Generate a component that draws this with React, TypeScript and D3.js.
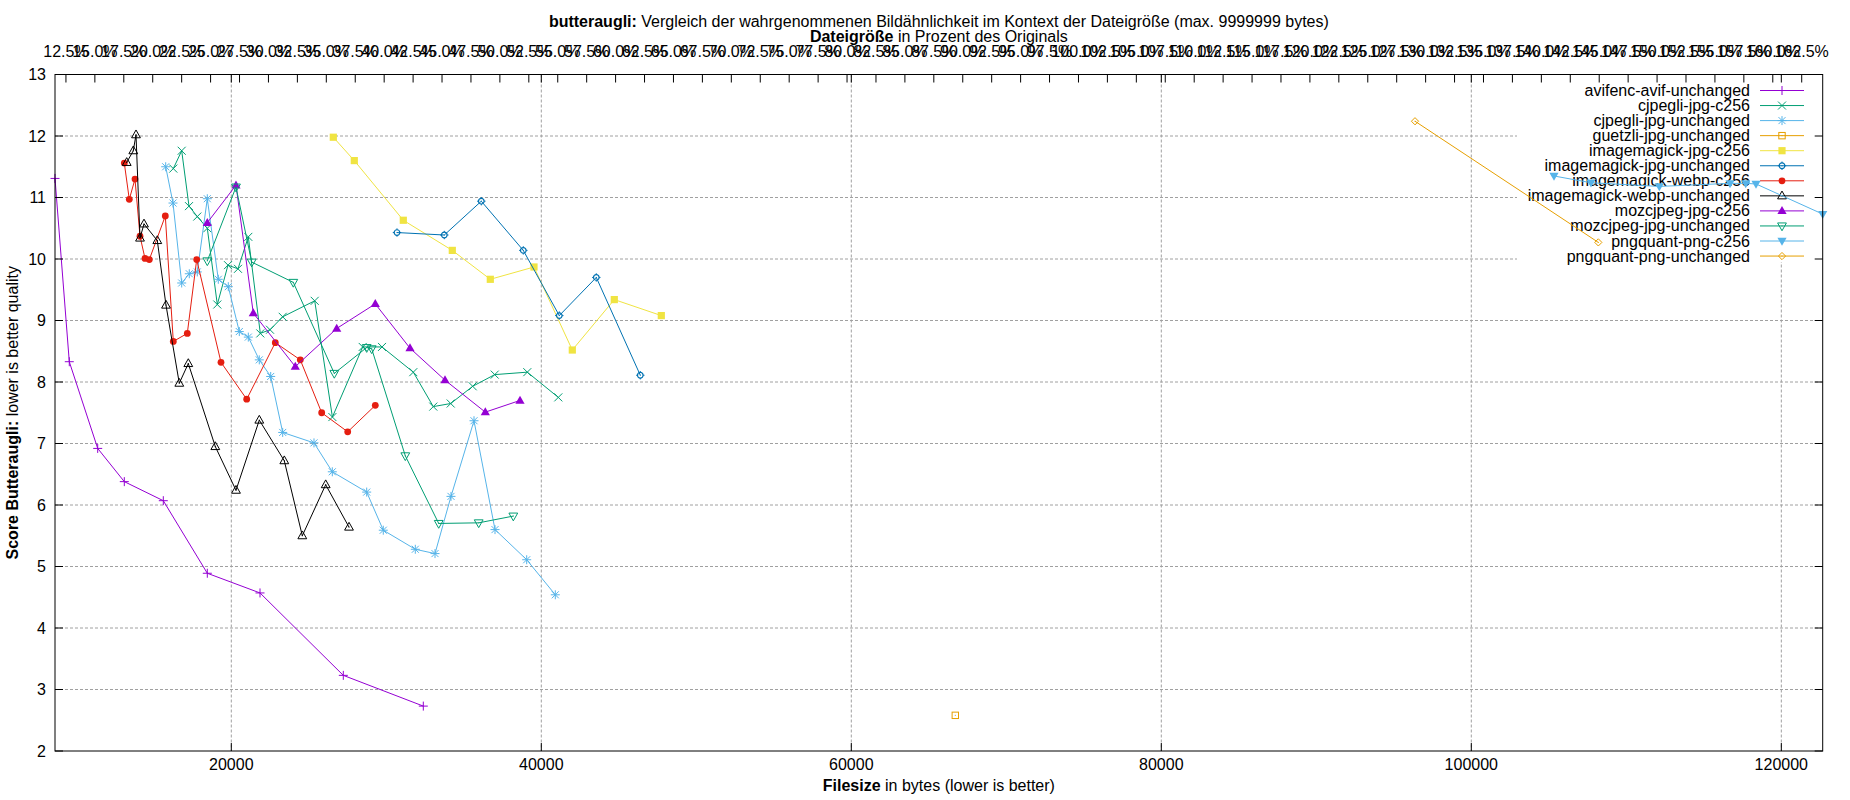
import React, { useEffect, useRef } from 'react';
import * as d3 from 'd3';

type Pt = [number, number]; // [filesize in bytes, butteraugli score]

const avifencAvifUnchanged: Pt[] = [
  [8626, 11.31], [9548, 8.33], [11381, 6.92], [13097, 6.38], [15613, 6.07],
  [18452, 4.89], [21852, 4.57], [27226, 3.23], [32387, 2.73],
];
const cjpegliJpgC256: Pt[] = [
  [16258, 11.47], [16800, 11.76], [17271, 10.86], [17806, 10.69], [18452, 10.5],
  [19097, 9.26], [19787, 9.9], [20432, 9.84], [21097, 10.36], [21871, 8.79],
  [22497, 8.85], [23316, 9.06], [25381, 9.32], [26523, 7.43], [28477, 8.57],
  [29723, 8.57], [31742, 8.16], [33032, 7.6], [34155, 7.65], [35574, 7.93],
  [36994, 8.12], [39097, 8.16], [41097, 7.75],
];
const cjpegliJpgUnchanged: Pt[] = [
  [15768, 11.5], [16239, 10.91], [16800, 9.61], [17290, 9.76], [17806, 9.79],
  [18452, 10.98], [19161, 9.67], [19806, 9.55], [20516, 8.82], [21097, 8.73],
  [21806, 8.36], [22542, 8.09], [23316, 7.18], [25335, 7.01], [26516, 6.54],
  [28735, 6.21], [29806, 5.59], [31871, 5.28], [33142, 5.21], [34174, 6.14],
  [35658, 7.37], [37013, 5.6], [39058, 5.11], [40903, 4.54],
];
const guetzliJpgUnchanged: Pt[] = [[66710, 2.58]];
const imagemagickJpgC256: Pt[] = [
  [26581, 11.98], [27935, 11.6], [31097, 10.63], [34258, 10.14], [36710, 9.67],
  [39529, 9.87], [42000, 8.52], [44710, 9.34], [47742, 9.08],
];
const imagemagickJpgUnchanged: Pt[] = [
  [30690, 10.43], [33742, 10.39], [36129, 10.94], [38839, 10.14], [41161, 9.08],
  [43548, 9.7], [46387, 8.11],
];
const imagemagickWebpC256: Pt[] = [
  [13097, 11.56], [13419, 10.97], [13787, 11.3], [14110, 10.37], [14432, 10.01],
  [14710, 9.99], [15742, 10.7], [16258, 8.66], [17161, 8.79], [17768, 9.99],
  [19335, 8.32], [20994, 7.72], [22839, 8.64], [24452, 8.36], [25832, 7.5],
  [27510, 7.19], [29290, 7.62],
];
const imagemagickWebpUnchanged: Pt[] = [
  [13252, 11.57], [13677, 11.76], [13852, 12.02], [14110, 10.34], [14368, 10.57],
  [15226, 10.3], [15787, 9.25], [16645, 7.98], [17226, 8.3], [18968, 6.95],
  [20303, 6.24], [21806, 7.38], [23419, 6.72], [24581, 5.5], [26090, 6.33],
  [27594, 5.64],
];
const mozcjpegJpgC256: Pt[] = [
  [18452, 10.59], [20303, 11.2], [21419, 9.12], [24129, 8.25], [26800, 8.87],
  [29290, 9.27], [31529, 8.55], [33787, 8.03], [36387, 7.51], [38626, 7.7],
];
const mozcjpegJpgUnchanged: Pt[] = [
  [18452, 9.97], [20303, 11.17], [21316, 9.95], [24000, 9.62], [26645, 8.14],
  [28735, 8.56], [29058, 8.54], [31226, 6.8], [33381, 5.7], [35961, 5.71],
  [38194, 5.82],
];
const pngquantPngC256: Pt[] = [
  [105335, 11.35], [107722, 11.24], [112129, 11.18], [116690, 11.23],
  [117703, 11.23], [118368, 11.22], [122670, 10.73],
];
const pngquantPngUnchanged: Pt[] = [[96367, 12.24], [108194, 10.27]];

const seriesNames = [
  'avifenc-avif-unchanged', 'cjpegli-jpg-c256', 'cjpegli-jpg-unchanged',
  'guetzli-jpg-unchanged', 'imagemagick-jpg-c256', 'imagemagick-jpg-unchanged',
  'imagemagick-webp-c256', 'imagemagick-webp-unchanged', 'mozcjpeg-jpg-c256',
  'mozcjpeg-jpg-unchanged', 'pngquant-png-c256', 'pngquant-png-unchanged',
];
const seriesData = [
  avifencAvifUnchanged, cjpegliJpgC256, cjpegliJpgUnchanged, guetzliJpgUnchanged,
  imagemagickJpgC256, imagemagickJpgUnchanged, imagemagickWebpC256,
  imagemagickWebpUnchanged, mozcjpegJpgC256, mozcjpegJpgUnchanged,
  pngquantPngC256, pngquantPngUnchanged,
];

const yTicks = d3.range(2, 14);
const xTicks = [20000, 40000, 60000, 80000, 100000, 120000];
const pctTicks = d3.range(12.5, 162.6, 2.5);
const originalSize = 74656; // bytes, for the percent axis on top

// gnuplot default line colours and point types
const colors = [
  '#9400d3', '#009e73', '#56b4e9', '#e69f00', '#f0e442', '#0072b2',
  '#e51e10', '#000000', '#9400d3', '#009e73', '#56b4e9', '#e69f00',
];
const markers = [
  'plus', 'cross', 'star', 'squareOpen', 'squareFilled', 'circleOpen',
  'circleFilled', 'triUpOpen', 'triUpFilled', 'triDownOpen', 'triDownFilled', 'diamondOpen',
];

const FONT = '"Liberation Sans", Arial, sans-serif';

function drawMarker(g: d3.Selection<SVGGElement, unknown, null, undefined>, kind: string, x: number, y: number, color: string) {
  const m = g.append('g').attr('transform', `translate(${x},${y})`);
  const dot = () => m.append('rect').attr('x', -0.5).attr('y', -0.5).attr('width', 1).attr('height', 1).attr('fill', color);
  switch (kind) {
    case 'plus':
      m.append('path').attr('d', 'M-4.5,0H4.5M0,-4.5V4.5').attr('stroke', color).attr('fill', 'none');
      break;
    case 'cross':
      m.append('path').attr('d', 'M-4,-4L4,4M-4,4L4,-4').attr('stroke', color).attr('fill', 'none');
      break;
    case 'star':
      m.append('path').attr('d', 'M-4.5,0H4.5M0,-4.5V4.5M-3.5,-3.5L3.5,3.5M-3.5,3.5L3.5,-3.5').attr('stroke', color).attr('fill', 'none');
      break;
    case 'squareOpen':
      m.append('rect').attr('x', -3.2).attr('y', -3.2).attr('width', 6.4).attr('height', 6.4).attr('stroke', color).attr('fill', 'none');
      dot();
      break;
    case 'squareFilled':
      m.append('rect').attr('x', -3.6).attr('y', -3.6).attr('width', 7.2).attr('height', 7.2).attr('fill', color);
      break;
    case 'circleOpen':
      m.append('circle').attr('r', 2.8).attr('stroke', color).attr('stroke-width', 1.2).attr('fill', 'none');
      m.append('path').attr('d', 'M0,-4.2V-2.8M0,2.8V4.2M-4.2,0H-2.8M2.8,0H4.2').attr('stroke', color).attr('fill', 'none');
      dot();
      break;
    case 'circleFilled':
      m.append('circle').attr('r', 3.4).attr('fill', color);
      break;
    case 'triUpOpen':
      m.append('path').attr('d', 'M0,-4.8L4.4,3L-4.4,3Z').attr('stroke', color).attr('fill', 'none');
      dot();
      break;
    case 'triUpFilled':
      m.append('path').attr('d', 'M0,-4.8L4.6,3.2L-4.6,3.2Z').attr('fill', color);
      break;
    case 'triDownOpen':
      m.append('path').attr('d', 'M0,4.8L4.4,-3L-4.4,-3Z').attr('stroke', color).attr('fill', 'none');
      dot();
      break;
    case 'triDownFilled':
      m.append('path').attr('d', 'M0,4.8L4.6,-3.2L-4.6,-3.2Z').attr('fill', color);
      break;
    case 'diamondOpen':
      m.append('path').attr('d', 'M0,-3.6L3.6,0L0,3.6L-3.6,0Z').attr('stroke', color).attr('fill', 'none');
      dot();
      break;
  }
}

const App: React.FC = () => {
  const ref = useRef<SVGSVGElement | null>(null);

  useEffect(() => {
    if (!ref.current) return;
    document.body.style.margin = '0';
    const svg = d3.select(ref.current);
    svg.selectAll('*').remove();

    const W = 1850, H = 800;
    const left = 55, right = 1822.7, top = 74.5, bottom = 751;

    const allX = seriesData.flat().map(d => d[0]);
    const xDom = d3.extent(allX) as [number, number];
    const x = d3.scaleLinear().domain(xDom).range([left, right]);
    const x2 = d3.scaleLinear().domain([xDom[0] / originalSize * 100, xDom[1] / originalSize * 100]).range([left, right]);
    const y = d3.scaleLinear().domain([2, 13]).range([bottom, top]);

    svg.attr('width', W).attr('height', H).style('font-family', FONT).style('font-size', '16px');
    svg.append('rect').attr('width', W).attr('height', H).attr('fill', '#fff');

    // grid
    const grid = svg.append('g').attr('stroke', '#a0a0a0').attr('stroke-dasharray', '3,2').attr('stroke-width', 1);
    yTicks.filter(t => t > 2 && t < 13).forEach(t => {
      grid.append('line').attr('x1', left).attr('x2', right).attr('y1', y(t)).attr('y2', y(t));
    });
    xTicks.forEach(t => {
      grid.append('line').attr('x1', x(t)).attr('x2', x(t)).attr('y1', top).attr('y2', bottom);
    });

    // key (opaque box behind entries)
    const keyG = svg.append('g');
    keyG.append('rect').attr('x', 1517).attr('y', 76).attr('width', right - 1517 - 0.5).attr('height', 186).attr('fill', '#fff');
    seriesNames.forEach((name, i) => {
      const cy = 90.5 + i * 15.05;
      keyG.append('text').attr('x', 1750).attr('y', cy + 5.5).attr('text-anchor', 'end').text(name);
      keyG.append('line').attr('x1', 1760).attr('x2', 1804).attr('y1', cy).attr('y2', cy).attr('stroke', colors[i]).attr('stroke-width', 1);
      drawMarker(keyG, markers[i], 1782, cy, colors[i]);
    });

    // data
    const line = d3.line<Pt>().x(d => x(d[0])).y(d => y(d[1]));
    seriesData.forEach((data, i) => {
      const g = svg.append('g');
      g.append('path').datum(data).attr('d', line).attr('fill', 'none').attr('stroke', colors[i]).attr('stroke-width', 1);
      data.forEach(d => drawMarker(g, markers[i], x(d[0]), y(d[1]), colors[i]));
    });

    // border and ticks
    const ax = svg.append('g').attr('stroke', '#000').attr('stroke-width', 1);
    ax.append('rect').attr('x', left).attr('y', top).attr('width', right - left).attr('height', bottom - top).attr('fill', 'none');
    yTicks.forEach(t => {
      ax.append('line').attr('x1', left).attr('x2', left + 8).attr('y1', y(t)).attr('y2', y(t));
      ax.append('line').attr('x1', right).attr('x2', right - 8).attr('y1', y(t)).attr('y2', y(t));
    });
    xTicks.forEach(t => {
      ax.append('line').attr('x1', x(t)).attr('x2', x(t)).attr('y1', bottom).attr('y2', bottom - 8);
      ax.append('line').attr('x1', x(t)).attr('x2', x(t)).attr('y1', top).attr('y2', top + 8);
    });
    pctTicks.forEach(t => {
      ax.append('line').attr('x1', x2(t)).attr('x2', x2(t)).attr('y1', top).attr('y2', top + 8);
    });

    // tick labels
    const labels = svg.append('g').attr('fill', '#000');
    yTicks.forEach(t => {
      labels.append('text').attr('x', 46).attr('y', y(t) + 5.5).attr('text-anchor', 'end').text(t);
    });
    xTicks.forEach(t => {
      labels.append('text').attr('x', x(t)).attr('y', 770).attr('text-anchor', 'middle').text(t);
    });
    pctTicks.forEach(t => {
      labels.append('text').attr('x', x2(t)).attr('y', 57).attr('text-anchor', 'middle').text(`${t.toFixed(1)}%`);
    });

    // titles
    const cx = (left + right) / 2;
    const t1 = labels.append('text').attr('x', cx).attr('y', 26.7).attr('text-anchor', 'middle');
    t1.append('tspan').attr('font-weight', 'bold').text('butteraugli:');
    t1.append('tspan').text(' Vergleich der wahrgenommenen Bildähnlichkeit im Kontext der Dateigröße (max. 9999999 bytes)');

    const t2 = labels.append('text').attr('x', cx).attr('y', 42).attr('text-anchor', 'middle');
    t2.append('tspan').attr('font-weight', 'bold').text('Dateigröße');
    t2.append('tspan').text(' in Prozent des Originals');

    const t3 = labels.append('text').attr('x', cx).attr('y', 791).attr('text-anchor', 'middle');
    t3.append('tspan').attr('font-weight', 'bold').text('Filesize');
    t3.append('tspan').text(' in bytes (lower is better)');

    const cy = (top + bottom) / 2;
    const t4 = labels.append('text').attr('transform', `translate(18,${cy}) rotate(-90)`).attr('text-anchor', 'middle');
    t4.append('tspan').attr('font-weight', 'bold').text('Score Butteraugli:');
    t4.append('tspan').text(' lower is better quality');
  }, []);

  return (
    <svg ref={ref} style={{ position: 'absolute', left: 0, top: 0, display: 'block' }} />
  );
};

export default App;
